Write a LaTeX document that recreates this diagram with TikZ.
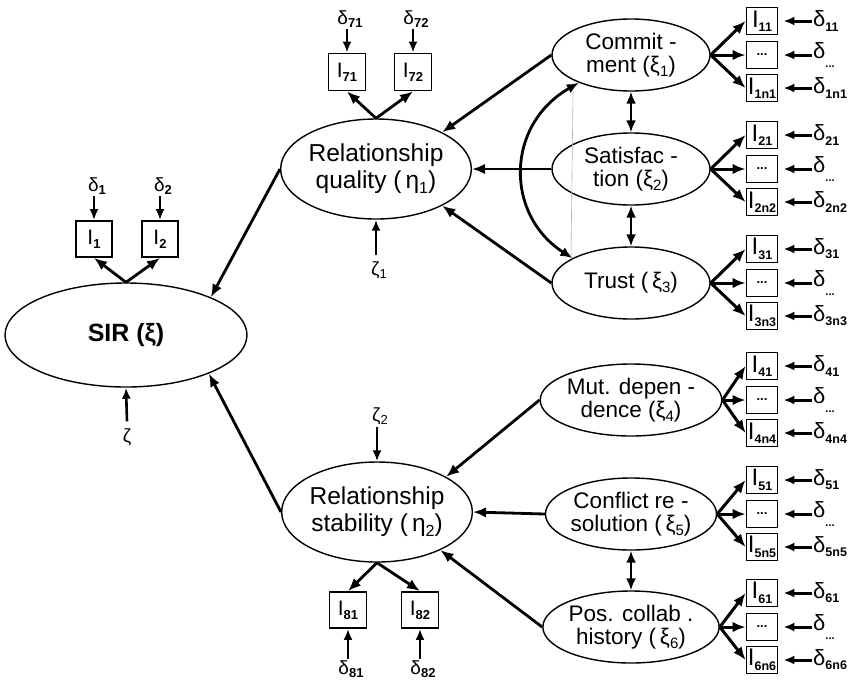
\documentclass[tikz,border=0pt]{standalone}
\usepackage{fontspec}
\setmainfont{Liberation Sans}
\usetikzlibrary{shapes.geometric,arrows.meta}
% lowered subscript at a given size
\newcommand\lo[2]{\raisebox{-0.35ex}{\fontsize{#1}{#1}\selectfont #2}}
\newcommand\fs[2]{\fontsize{#1}{#2}\selectfont}
\tikzset{
  lat/.style={ellipse, draw, line width=1.4pt, inner sep=0pt, align=center},
  bigtext/.style={font=\fs{24.5}{27}},
  smalltext/.style={font=\fs{22.5}{23.5}},
  rbox/.style={rectangle, draw, line width=1.8pt, inner sep=0pt,
    minimum width=31pt, minimum height=27pt, font=\fs{24}{24}},
  lbox/.style={rectangle, draw, line width=1.8pt, inner sep=0pt,
    minimum width=37pt, minimum height=37pt, font=\fs{21}{21}},
  rdelta/.style={inner sep=1pt, anchor=west, font=\fs{22}{22}},
  ldelta/.style={inner sep=1pt, font=\fs{19}{19}},
  arr/.style={line width=2.8pt, -{Latex[length=13pt,width=10.5pt]}},
  darr/.style={line width=2.8pt, {Latex[length=12pt,width=10pt]}-{Latex[length=12pt,width=10pt]}},
  sarr/.style={line width=2.6pt, -{Latex[length=11pt,width=9pt]}},
}
\begin{document}
\begin{tikzpicture}[x=1pt,y=-1pt]
\useasboundingbox (0,0) rectangle (850,683);

% latent variables
\node[lat, minimum width=242pt, minimum height=104pt, font=\fs{25}{28}\bfseries]
  (sir) at (126,335) {SIR (ξ)};
\node[lat, bigtext, minimum width=180pt, minimum height=100pt]
  (rq) at (376,169) {Relationship\\quality (\,η\lo{16}{1})};
\node[lat, bigtext, minimum width=184pt, minimum height=100pt]
  (rs) at (377,512) {Relationship\\stability (\,η\lo{16}{2})};

\node[lat, smalltext, minimum width=158pt, minimum height=72pt]
  (com) at (631,55) {Commit -\\ment (ξ\lo{15}{1})};
\node[lat, smalltext, minimum width=158pt, minimum height=72pt]
  (sat) at (631,169) {Satisfac -\\tion (ξ\lo{15}{2})};
\node[lat, smalltext, minimum width=158pt, minimum height=72pt]
  (tru) at (631,283) {Trust (\,ξ\lo{15}{3})};
\node[lat, smalltext, minimum width=158pt, minimum height=72pt]
  (mut) at (631,400) {Mut. depen -\\dence (ξ\lo{15}{4})};
\node[lat, smalltext, minimum width=158pt, minimum height=72pt]
  (con) at (631,514) {Conflict re -\\solution (\,ξ\lo{15}{5})};
\node[lat, smalltext, minimum width=158pt, minimum height=72pt]
  (pos) at (631,627) {Pos. collab .\\history (\,ξ\lo{15}{6})};

% indicators of the exogenous constructs, with their error terms
\foreach \n/\y/\k in {com/55/1, sat/169/2, tru/283/3, mut/400/4, con/514/5, pos/627/6} {
  \node[rbox] (\n a) at (762,\y-34) {I\lo{12.5}{\bfseries \k1}};
  \node[rbox] (\n b) at (762,\y) {\fs{13}{13}\bfseries ...};
  \node[rbox] (\n c) at (762,\y+33) {I\lo{12.5}{\bfseries \k n\k}};
  \draw[arr, line width=3pt] (\n.east) -- (\n a.west);
  \draw[arr, line width=3pt] (\n.east) -- (\n b.west);
  \draw[arr, line width=3pt] (\n.east) -- (\n c.west);
  \node[rdelta] (\n da) at (812,\y-34) {δ\lo{12.5}{\bfseries \k1}};
  \node[rdelta] (\n db) at (812,\y) {δ\raisebox{-0.7ex}{\fs{11}{11}\bfseries ...}};
  \node[rdelta] (\n dc) at (812,\y+33) {δ\lo{12.5}{\bfseries \k n\k}};
  \draw[sarr, line width=3pt] (\n da.west) -- ([xshift=5pt]\n a.east);
  \draw[sarr, line width=3pt] (\n db.west) -- ([xshift=5pt]\n b.east);
  \draw[sarr, line width=3pt] (\n dc.west) -- ([xshift=5pt]\n c.east);
}

% indicators of SIR
\node[lbox, minimum width=36pt, minimum height=36pt] (i1) at (94,239) {I\lo{13}{\bfseries 1}};
\node[lbox, minimum width=36pt, minimum height=36pt] (i2) at (160,239) {I\lo{13}{\bfseries 2}};
\node[ldelta] (d1) at (97,186) {δ\lo{13}{\bfseries 1}};
\node[ldelta] (d2) at (163,186) {δ\lo{13}{\bfseries 2}};
\draw[sarr] (d1.south -| i1.north) -- (i1.north);
\draw[sarr] (d2.south -| i2.north) -- (i2.north);
\draw[arr] (sir.north) -- (i1.south);
\draw[arr] (sir.north) -- (i2.south);

% indicators of relationship quality
\node[lbox] (i71) at (347,72) {I\lo{13}{\bfseries 71}};
\node[lbox] (i72) at (413,72) {I\lo{13}{\bfseries 72}};
\node[ldelta] (d71) at (350,19) {δ\lo{13}{\bfseries 71}};
\node[ldelta] (d72) at (416,19) {δ\lo{13}{\bfseries 72}};
\draw[sarr] (d71.south -| i71.north) -- (i71.north);
\draw[sarr] (d72.south -| i72.north) -- (i72.north);
\draw[arr] (rq.north) -- (i71.south);
\draw[arr] (rq.north) -- (i72.south);

% indicators of relationship stability
\node[lbox, minimum height=36pt] (i81) at (348,610) {I\lo{13}{\bfseries 81}};
\node[lbox, minimum height=36pt] (i82) at (420,610) {I\lo{13}{\bfseries 82}};
\node[ldelta] (d81) at (351,669) {δ\lo{13}{\bfseries 81}};
\node[ldelta] (d82) at (423,669) {δ\lo{13}{\bfseries 82}};
\draw[sarr] (d81.north -| i81.south) -- (i81.south);
\draw[sarr] (d82.north -| i82.south) -- (i82.south);
\draw[arr] (rs.south) -- (i81.north);
\draw[arr] (rs.south) -- (i82.north);

% disturbances
\node[ldelta] (z) at (127,437) {ζ};
\node[ldelta] (z1) at (379,270) {ζ\lo{13}{1}};
\node[ldelta] (z2) at (380,416) {ζ\lo{13}{2}};
\draw[sarr] ([yshift=6pt]z.north) -- (sir.south);
\draw[sarr] ([yshift=5pt]z1.north -| rq.south) -- (rq.south);
\draw[sarr] ([yshift=-1pt]z2.south -| rs.north) -- (rs.north);

% structural paths
\draw[arr] (rq.180) -- (sir.24);
\draw[arr] (rs.180) -- (sir.-25);
\draw[arr] (com.west) -- (rq.29);
\draw[arr] (sat.west) -- (rq.east);
\draw[arr] (tru.west) -- (rq.-29);
\draw[arr] (mut.west) -- (rs.27);
\draw[arr] (con.west) -- (rs.east);
\draw[arr] (pos.west) -- (rs.-31);

% correlations among the exogenous constructs
\draw[darr] (com.-152) .. controls (505,125) and (505,215) .. (tru.157);
\draw[darr] (com.south) -- (sat.north);
\draw[darr] (sat.south) -- (tru.north);
\draw[darr] (con.south) -- (pos.north);
\coordinate (g1) at (573,92);
\coordinate (g2) at (571,257);
\draw[gray!60, line width=0.6pt] (g1) -- (g2);
\end{tikzpicture}
\end{document}
